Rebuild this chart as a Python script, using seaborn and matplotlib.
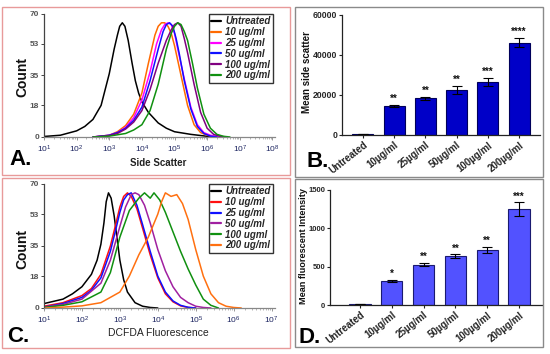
import numpy as np
import pandas as pd
import matplotlib
matplotlib.use("Agg")
import matplotlib.pyplot as plt
from matplotlib.patches import Rectangle
from matplotlib.ticker import LogLocator, NullFormatter
import seaborn as sns

# ---------------- data ----------------
# Panel A: side scatter histograms (x as log10 of signal, y = count)
a_labels = ["Untreated", "10 ug/ml", "25 ug/ml", "50 ug/ml", "100 ug/ml", "200 ug/ml"]
a_colors = ["#000000", "#ff6a00", "#ff00ff", "#1010ff", "#800080", "#109010"]
a_untreated_lx = [1.0, 1.5, 2.0, 2.25, 2.5, 2.75, 3.0, 3.15, 3.25, 3.32, 3.4, 3.48, 3.58, 3.7, 3.8, 3.9, 4.0, 4.2, 4.5, 4.75, 5.0, 5.5, 6.0, 6.5]
a_untreated_n = [0.3, 1.0, 3.5, 6, 10, 18, 36, 50, 58, 63, 65, 63, 55, 42, 32, 25, 20, 14, 8, 5, 3, 1.5, 0.4, 0]
a_10_lx = [2.5, 3.0, 3.25, 3.5, 3.75, 4.0, 4.2, 4.4, 4.5, 4.6, 4.7, 4.8, 4.9, 5.0, 5.2, 5.4, 5.6, 5.8, 6.0, 6.2, 6.4]
a_10_n = [0, 1, 3, 6.5, 13, 25, 42, 58, 63, 65, 65, 63, 59, 52, 35, 18, 7, 2.5, 1, 0.3, 0]
a_25_lx = [2.5, 3.0, 3.25, 3.5, 3.75, 4.0, 4.25, 4.45, 4.6, 4.7, 4.8, 4.9, 5.0, 5.1, 5.3, 5.5, 5.7, 5.9, 6.1, 6.3, 6.5]
a_25_n = [0, 1, 2.5, 5.5, 11, 21, 37, 53, 61, 64, 65, 64, 59, 50, 33, 17, 7, 2.5, 1, 0.3, 0]
a_50_lx = [2.5, 3.0, 3.25, 3.5, 3.75, 4.0, 4.25, 4.5, 4.65, 4.75, 4.85, 4.95, 5.05, 5.15, 5.3, 5.5, 5.7, 5.9, 6.1, 6.3]
a_50_n = [0, 1, 2.5, 5, 9.5, 17, 32, 50, 60, 64, 65, 63, 56, 47, 32, 16, 6, 2, 0.5, 0]
a_100_lx = [2.5, 3.0, 3.25, 3.5, 3.75, 4.0, 4.25, 4.5, 4.75, 4.9, 5.0, 5.1, 5.2, 5.3, 5.4, 5.6, 5.8, 6.0, 6.2, 6.4, 6.6]
a_100_n = [0, 0.8, 2, 4.5, 8.5, 15, 27, 42, 55, 61, 64, 65, 63, 56, 48, 30, 14, 5, 1.5, 0.4, 0]
a_200_lx = [2.5, 3.0, 3.5, 3.75, 4.0, 4.25, 4.5, 4.75, 4.9, 5.0, 5.1, 5.2, 5.3, 5.4, 5.55, 5.7, 5.9, 6.1, 6.3, 6.5, 6.7]
a_200_n = [0, 0.5, 2, 4, 7, 15, 30, 50, 59, 63, 65, 64, 60, 55, 42, 28, 13, 5, 1.5, 0.4, 0]
a_yticks = [0, 18, 35, 53, 70]

# Panel C: DCFDA fluorescence histograms
c_labels = ["Untreated", "10 ug/ml", "25 ug/ml", "50 ug/ml", "100 ugml", "200 ug/ml"]
c_colors = ["#000000", "#ff1010", "#1010ff", "#a020a0", "#109010", "#ff7010"]
c_untreated_lx = [1.0, 1.2, 1.5, 1.75, 2.0, 2.25, 2.4, 2.5, 2.58, 2.64, 2.7, 2.77, 2.85, 3.0, 3.1, 3.2, 3.4, 3.6, 3.8, 4.0]
c_untreated_n = [2.5, 3.5, 5, 8, 12, 19, 27, 36, 48, 60, 65, 62, 52, 27, 16, 9, 3, 1, 0.3, 0]
c_10_lx = [1.0, 1.5, 2.0, 2.25, 2.5, 2.75, 2.9, 3.0, 3.1, 3.2, 3.3, 3.45, 3.6, 3.8, 4.0, 4.2, 4.4, 4.6, 4.8, 5.0]
c_10_n = [1, 3, 7, 11, 19, 35, 48, 57, 63, 65, 63, 56, 45, 30, 17, 8, 3.5, 1.2, 0.3, 0]
c_25_lx = [1.0, 1.5, 2.0, 2.25, 2.5, 2.75, 2.9, 3.0, 3.1, 3.2, 3.3, 3.45, 3.6, 3.8, 4.0, 4.2, 4.4, 4.6, 4.8, 5.0]
c_25_n = [0.5, 2.5, 6, 10, 17, 32, 45, 54, 61, 64, 65, 58, 47, 32, 18, 9, 4, 1.5, 0.4, 0]
c_50_lx = [1.0, 1.5, 2.0, 2.5, 2.75, 3.0, 3.15, 3.3, 3.4, 3.5, 3.65, 3.8, 4.0, 4.2, 4.4, 4.6, 4.8, 5.0, 5.2, 5.4]
c_50_n = [0.5, 2, 5, 14, 27, 46, 57, 64, 65, 64, 58, 48, 33, 21, 12, 6, 3, 1, 0.3, 0]
c_100_lx = [1.0, 1.5, 2.0, 2.5, 2.75, 3.0, 3.25, 3.5, 3.65, 3.8, 3.9, 4.05, 4.2, 4.4, 4.6, 4.8, 5.0, 5.2, 5.4, 5.6]
c_100_n = [0.3, 1.5, 3.5, 9, 20, 40, 55, 62, 65, 62, 65, 61, 54, 43, 32, 22, 13, 5, 1.5, 0]
c_200_lx = [1.0, 1.5, 2.0, 2.5, 3.0, 3.25, 3.5, 3.75, 4.0, 4.1, 4.2, 4.35, 4.5, 4.65, 4.8, 5.0, 5.2, 5.4, 5.6, 5.8, 6.0, 6.2]
c_200_n = [0, 0.5, 1.2, 3, 9, 18, 30, 40, 53, 60, 65, 63, 64, 59, 50, 33, 18, 8, 3, 1, 0.3, 0]
c_yticks = [0, 18, 35, 53, 70]

# Panels B and D: bar charts
bar_labels = ["Untreated", "10\u00b5g/ml", "25\u00b5g/ml", "50\u00b5g/ml", "100\u00b5g/ml", "200\u00b5g/ml"]
b_means = [400, 14400, 18300, 22500, 26600, 46200]
b_err = [100, 600, 700, 2000, 2000, 2400]
b_stars = ["", "**", "**", "**", "***", "****"]
b_yticks = [0, 20000, 40000, 60000]
d_means = [12, 311, 527, 636, 722, 1254]
d_err = [3, 17, 22, 26, 38, 87]
d_stars = ["", "*", "**", "**", "**", "***"]
d_yticks = [0, 500, 1000, 1500]

# ---------------- style ----------------
sns.set_theme(style="white")
plt.rcParams["font.family"] = ["Liberation Sans", "DejaVu Sans"]
plt.rcParams["mathtext.default"] = "regular"

W, H = 550, 354
fig = plt.figure(figsize=(W / 100, H / 100), dpi=100)
fig.patch.set_facecolor("white")


def rect(x0, y0, x1, y1):
    return [x0 / W, 1 - y1 / H, (x1 - x0) / W, (y1 - y0) / H]


def frame(x0, y0, x1, y1, color):
    fig.add_artist(Rectangle((x0 / W, 1 - y1 / H), (x1 - x0) / W, (y1 - y0) / H,
                             transform=fig.transFigure, fill=False, edgecolor=color, lw=1.0))


def ftext(x, y, s, **kw):
    fig.text(x / W, 1 - y / H, s, **kw)


frame(2, 7, 290, 175, "#e89a9a")
frame(295, 7, 543, 177, "#8a8a8a")
frame(2, 178, 290, 348, "#e89a9a")
frame(295, 179, 543, 347, "#8a8a8a")


def hist_panel(r, lxs, ns, labels, colors, xmax_exp, xmaj_max, yticks, leg_xy):
    ax = fig.add_axes(r)
    frames = []
    for lab, lx, n in zip(labels, lxs, ns):
        frames.append(pd.DataFrame({"x": 10.0 ** np.array(lx, dtype=float), "count": n, "group": lab}))
    df = pd.concat(frames, ignore_index=True)
    sns.lineplot(data=df, x="x", y="count", hue="group", hue_order=labels,
                 palette=dict(zip(labels, colors)), sort=False, estimator=None,
                 linewidth=1.1, ax=ax)
    ax.set_xscale("log")
    ax.set_xlim(10, 10 ** xmax_exp)
    ax.set_ylim(0, 70)
    ax.set_xticks([10.0 ** k for k in range(1, xmaj_max + 1)])
    ax.xaxis.set_minor_locator(LogLocator(base=10, subs=np.arange(2, 10), numticks=20))
    ax.xaxis.set_minor_formatter(NullFormatter())
    ax.set_yticks(yticks)
    ax.set_yticklabels([str(t) for t in yticks])
    ax.set_xlabel("")
    ax.set_ylabel("")
    for s in ["top", "right"]:
        ax.spines[s].set_visible(False)
    ax.spines["left"].set_color("#444444")
    ax.spines["bottom"].set_color("#888888")
    ax.spines["left"].set_linewidth(0.9)
    ax.spines["bottom"].set_linewidth(0.9)
    ax.tick_params(axis="y", which="major", length=2.5, width=0.7, color="#444444",
                   labelsize=6, labelcolor="#555555", pad=1, left=True)
    ax.tick_params(axis="x", which="major", length=2.5, width=0.6, color="#888888",
                   labelsize=6, labelcolor="#1c2460", pad=2, bottom=True)
    ax.tick_params(axis="x", which="minor", length=1.5, width=0.5, color="#999999", bottom=True)
    for t in ax.get_yticklabels():
        t.set_fontweight("bold")
    handles, labs = ax.get_legend_handles_labels()
    for h in handles:
        h.set_linewidth(1.6)
    leg = ax.legend(handles, labs, loc="upper left",
                    bbox_to_anchor=(leg_xy[0] / W, 1 - leg_xy[1] / H),
                    bbox_transform=fig.transFigure,
                    prop={"weight": "bold", "style": "italic", "size": 7},
                    frameon=True, fancybox=False, edgecolor="black",
                    handlelength=1.0, handletextpad=0.4, labelspacing=0.08,
                    borderpad=0.25, borderaxespad=0)
    leg.get_frame().set_linewidth(1.0)
    return ax


axA = hist_panel(rect(44, 14, 275, 137),
                 [a_untreated_lx, a_10_lx, a_25_lx, a_50_lx, a_100_lx, a_200_lx],
                 [a_untreated_n, a_10_n, a_25_n, a_50_n, a_100_n, a_200_n],
                 a_labels, a_colors, 8.08, 8, a_yticks, (209, 14))
axC = hist_panel(rect(44, 184, 275, 308),
                 [c_untreated_lx, c_10_lx, c_25_lx, c_50_lx, c_100_lx, c_200_lx],
                 [c_untreated_n, c_10_n, c_25_n, c_50_n, c_100_n, c_200_n],
                 c_labels, c_colors, 7.09, 7, c_yticks, (209, 184))

ftext(22, 77, "Count", rotation=90, ha="center", va="center", fontsize=10, fontweight="bold", color="#111111")
ftext(22, 249, "Count", rotation=90, ha="center", va="center", fontsize=10, fontweight="bold", color="#111111")
ftext(158, 163, "Side Scatter", ha="center", va="center", fontsize=7, color="#222222", fontweight="bold")
ftext(158, 333, "DCFDA Fluorescence", ha="center", va="center", fontsize=7.5, color="#222222")


def bar_panel(r, means, errs, stars, yticks, ymax, xlim, color, edge, star_off, ytick_size):
    ax = fig.add_axes(r)
    df = pd.DataFrame({"group": bar_labels, "value": means})
    sns.barplot(data=df, x="group", y="value", color=color, saturation=1,
                edgecolor=edge, linewidth=0.8, width=0.67, ax=ax)
    centers = [p.get_x() + p.get_width() / 2 for p in ax.patches]
    ax.errorbar(centers, means, yerr=errs, fmt="none", ecolor="black",
                elinewidth=0.8, capsize=3.5, capthick=0.8)
    for cx, m, e, s in zip(centers, means, errs, stars):
        if s:
            ax.text(cx, m + e + star_off, s, ha="center", va="bottom",
                    fontsize=7, fontweight="bold", color="#111111")
    ax.set_ylim(0, ymax)
    ax.set_xlim(*xlim)
    ax.set_yticks(yticks)
    ax.set_yticklabels([str(t) for t in yticks])
    ax.set_xticks(range(len(bar_labels)))
    ax.set_xticklabels(bar_labels, rotation=38, ha="right", rotation_mode="anchor",
                       fontsize=7, fontweight="bold")
    ax.set_xlabel("")
    ax.set_ylabel("")
    for s in ["top", "right"]:
        ax.spines[s].set_visible(False)
    for s in ["left", "bottom"]:
        ax.spines[s].set_color("#222222")
        ax.spines[s].set_linewidth(0.9)
    ax.tick_params(axis="y", length=2.5, width=0.8, labelsize=ytick_size, pad=1, left=True, color="#222222")
    ax.tick_params(axis="x", length=2.0, width=0.8, pad=1.5, bottom=True, color="#222222")
    for t in ax.get_yticklabels():
        t.set_fontweight("bold")
    return ax


axB = bar_panel(rect(342, 15, 540, 135), b_means, b_err, b_stars, b_yticks, 60000,
                (-0.67, 5.67), "#0000c8", "#00005a", 400, 6.2)
axD = bar_panel(rect(330, 190, 542, 305), d_means, d_err, d_stars, d_yticks, 1500,
                (-0.94, 5.72), "#5252ff", "#1a1a70", 10, 5.5)

ftext(307, 72, "Mean side scatter", rotation=90, ha="center", va="center",
      fontsize=7, fontweight="bold", color="#111111")
ftext(304, 246, "Mean fluorescent Intensity", rotation=90, ha="center", va="center",
      fontsize=6.6, fontweight="bold", color="#111111")

for x, y, s in [(9, 165, "A."), (306, 167, "B."), (7, 342, "C."), (299, 343, "D.")]:
    ftext(x, y, s, ha="left", va="baseline", fontsize=16, fontweight="bold", color="black")

fig.savefig("out.png", dpi=100, facecolor="white")
